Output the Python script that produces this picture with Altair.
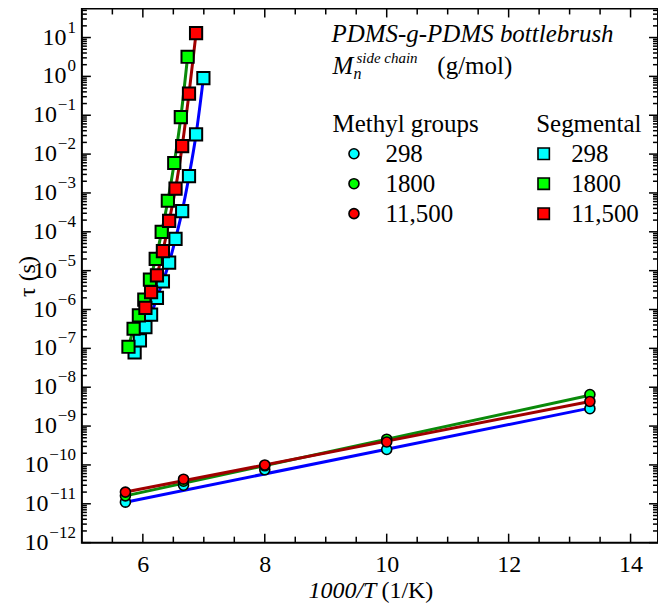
import altair as alt
import pandas as pd

# ---------------- data ----------------
series = ["298", "1800", "11,500"]
fill_colors = ["#00FFFF", "#00FF00", "#FF0000"]
line_colors = ["#0000FF", "#0A8A0A", "#A00000"]

# Methyl-group relaxation (circles)
methyl_x = [5.714, 6.667, 8.0, 10.0, 13.333]
methyl_298 = [1.1e-11, 3.0e-11, 7.5e-11, 2.5e-10, 2.8e-9]
methyl_1800 = [1.6e-11, 3.8e-11, 9.5e-11, 4.6e-10, 6.5e-9]
methyl_11500 = [2.0e-11, 4.3e-11, 1.0e-10, 3.9e-10, 4.3e-9]

# Arrhenius fit lines (end points)
methyl_fit_x = [5.714, 13.333]
methyl_fit_298 = [1.1e-11, 2.9e-9]
methyl_fit_1800 = [1.6e-11, 6.2e-9]
methyl_fit_11500 = [2.0e-11, 4.3e-9]

# Segmental relaxation (squares)
seg_x_298 = [5.865, 5.952, 6.042, 6.135, 6.231, 6.329, 6.431, 6.536, 6.645, 6.757, 6.873, 6.993]
seg_298 = [7.9e-8, 1.6e-7, 3.5e-7, 7.4e-7, 2.0e-6, 5.3e-6, 1.6e-5, 6.6e-5, 3.4e-4, 2.7e-3, 3.2e-2, 0.90]
seg_x_1800 = [5.764, 5.848, 5.935, 6.024, 6.116, 6.211, 6.309, 6.41, 6.515, 6.623, 6.734]
seg_1800 = [1.1e-7, 3.2e-7, 7.1e-7, 1.8e-6, 5.9e-6, 2.0e-5, 1.0e-4, 6.3e-4, 5.9e-3, 8.9e-2, 3.2]
seg_x_11500 = [6.042, 6.135, 6.231, 6.329, 6.431, 6.536, 6.645, 6.757, 6.873]
seg_11500 = [1.1e-6, 2.8e-6, 7.6e-6, 3.2e-5, 1.9e-4, 1.3e-3, 1.6e-2, 0.36, 13.0]

# axis ticks / labels
x_labels = [6, 8, 10, 12, 14]
x_minor = [5.5, 6.5, 7, 7.5, 8.5, 9, 9.5, 10.5, 11, 11.5, 12.5, 13, 13.5]
y_exponents = list(range(-12, 2))
y_minor_mult = [2, 3, 4, 5, 6, 7, 8, 9]

# ---------------- tables ----------------
def long_table(xs_list, ys_list):
    rows = []
    for s, xs, ys in zip(series, xs_list, ys_list):
        for xv, yv in zip(xs, ys):
            rows.append({"x": xv, "tau": yv, "series": s})
    return pd.DataFrame(rows)

methyl_df = long_table([methyl_x] * 3, [methyl_298, methyl_1800, methyl_11500])
methyl_fit_df = long_table([methyl_fit_x] * 3, [methyl_fit_298, methyl_fit_1800, methyl_fit_11500])
seg_df = long_table([seg_x_298, seg_x_1800, seg_x_11500], [seg_298, seg_1800, seg_11500])

y_major_vals = [10.0 ** e for e in y_exponents]
y_minor_vals = [m * 10.0 ** e for e in y_exponents for m in y_minor_mult if m * 10.0 ** e < 56]
ylab_df = pd.DataFrame({"v": y_major_vals,
                        "ex": [str(e).replace("-", "\u2212") for e in y_exponents],
                        "base": ["10"] * len(y_exponents)})

W, H = 577, 535
FONT = "Liberation Serif"

xs = alt.Scale(domain=[5, 14.45], nice=False, zero=False)
ys = alt.Scale(type="log", domain=[1e-12, 56], nice=False)
x_axis = alt.Axis(values=x_labels, format="d", ticks=False, domain=False, grid=False,
                  labelFont=FONT, labelFontSize=24, labelColor="black", labelPadding=10,
                  title=None)
y_axis = alt.Axis(values=y_major_vals, labels=False, ticks=False, domain=False, grid=False,
                  title="\u03c4 (s)", titleFont=FONT, titleFontSize=24, titleFontWeight="normal",
                  titleColor="black", titleX=-54, titleY=268, titleBaseline="middle", titleAngle=-90)

def X(field):
    return alt.X(field, type="quantitative", scale=xs, axis=x_axis)

def Y(field):
    return alt.Y(field, type="quantitative", scale=ys, axis=y_axis)

stroke_enc = alt.Stroke("series:N", scale=alt.Scale(domain=series, range=line_colors), legend=None)

methyl_lines = alt.Chart(methyl_fit_df).mark_line(strokeWidth=3).encode(
    x=X("x"), y=Y("tau"), stroke=stroke_enc, detail="series:N")
seg_lines = alt.Chart(seg_df).mark_line(strokeWidth=3, interpolate="monotone").encode(
    x=X("x"), y=Y("tau"), stroke=stroke_enc, detail="series:N")

methyl_pts = alt.Chart(methyl_df).mark_point(shape="circle", filled=True, size=100, stroke="black",
                                             strokeWidth=1.6, opacity=1).encode(
    x=X("x"), y=Y("tau"),
    fill=alt.Fill("series:N", scale=alt.Scale(domain=series, range=fill_colors), sort=series,
                  legend=alt.Legend(title="Methyl groups", orient="none", legendX=251, legendY=104,
                                    titleFont=FONT, titleFontSize=25, titleFontWeight="normal",
                                    titleColor="black", titlePadding=4,
                                    labelFont=FONT, labelFontSize=25, labelColor="black",
                                    symbolType="circle", symbolSize=100, symbolStrokeColor="black",
                                    symbolStrokeWidth=1.6, symbolOffset=9, labelOffset=19,
                                    rowPadding=4, padding=0)),
    order=alt.Order("series:N", sort="descending"))

seg_pts = alt.Chart(seg_df).mark_point(shape="square", filled=True, size=150, stroke="black",
                                       strokeWidth=2, opacity=1).encode(
    x=X("x"), y=Y("tau"),
    fill=alt.Fill("series:N", scale=alt.Scale(domain=series, range=fill_colors), sort=series,
                  legend=alt.Legend(title="Segmental", orient="none", legendX=455, legendY=104,
                                    titleFont=FONT, titleFontSize=25, titleFontWeight="normal",
                                    titleColor="black", titlePadding=4,
                                    labelFont=FONT, labelFontSize=25, labelColor="black",
                                    symbolType="square", symbolSize=130, symbolStrokeColor="black",
                                    symbolStrokeWidth=1.6, symbolOffset=-5, labelOffset=15,
                                    rowPadding=4, padding=0)))

# tick marks drawn inward on all four sides
def xticks(vals, length):
    d = pd.DataFrame({"v": vals})
    b = alt.Chart(d).mark_rule(color="black", strokeWidth=1.5).encode(
        x=X("v"), y=alt.value(H), y2=alt.value(H - length))
    t = alt.Chart(d).mark_rule(color="black", strokeWidth=1.5).encode(
        x=X("v"), y=alt.value(0), y2=alt.value(length))
    return [b, t]

def yticks(vals, length):
    d = pd.DataFrame({"v": vals})
    l = alt.Chart(d).mark_rule(color="black", strokeWidth=1.5).encode(
        y=Y("v"), x=alt.value(0), x2=alt.value(length))
    r = alt.Chart(d).mark_rule(color="black", strokeWidth=1.5).encode(
        y=Y("v"), x=alt.value(W), x2=alt.value(W - length))
    return [l, r]

tick_layers = xticks(x_labels, 9) + xticks(x_minor, 6) + yticks(y_major_vals, 9) + yticks(y_minor_vals, 5)

# y tick labels: "10" with a raised, smaller exponent, right-aligned at the frame
ylab_base = alt.Chart(ylab_df).transform_calculate(
    off="-(8.5*length(datum.ex) + (indexof(datum.ex, '\u2212') >= 0 ? 1 : 0) + 1)"
).mark_text(font=FONT, fontSize=24, color="black", align="right", baseline="middle").encode(
    y=Y("v"), x=alt.value(-6), xOffset=alt.XOffset("off:Q", scale=None), text="base:N")
ylab_exp = alt.Chart(ylab_df).mark_text(font=FONT, fontSize=17, color="black", align="right",
                                        baseline="middle", dy=-10).encode(
    y=Y("v"), x=alt.value(-6), text="ex:N")

def label(txt, x, y, size, italic=False, align="left"):
    return alt.Chart(pd.DataFrame({"t": [txt]})).mark_text(
        font=FONT, fontSize=size, fontStyle="italic" if italic else "normal", color="black",
        align=align, baseline="middle").encode(x=alt.value(x), y=alt.value(y), text="t:N")

texts = [
    label("PDMS-g-PDMS bottlebrush", 250, 26, 25, italic=True),
    label("M", 251, 58, 25, italic=True),
    label("n", 272, 66, 16, italic=True),
    label("side chain", 275, 50, 15, italic=True),
    label("(g/mol)", 356, 58, 25),
    label("1000/T", 295, 583, 24, italic=True, align="right"),
    label("(1/K)", 300, 583, 24),
]

chart = alt.layer(
    methyl_lines, seg_lines, methyl_pts, seg_pts, *tick_layers, ylab_base, ylab_exp, *texts
).resolve_scale(fill="independent").properties(
    width=W, height=H, autosize="none",
    padding={"left": 74, "top": 0, "right": 0, "bottom": 68},
).configure(font=FONT).configure_view(stroke="black", strokeWidth=2)

chart.save("out.html", embed_options={"renderer": "svg", "actions": False})
